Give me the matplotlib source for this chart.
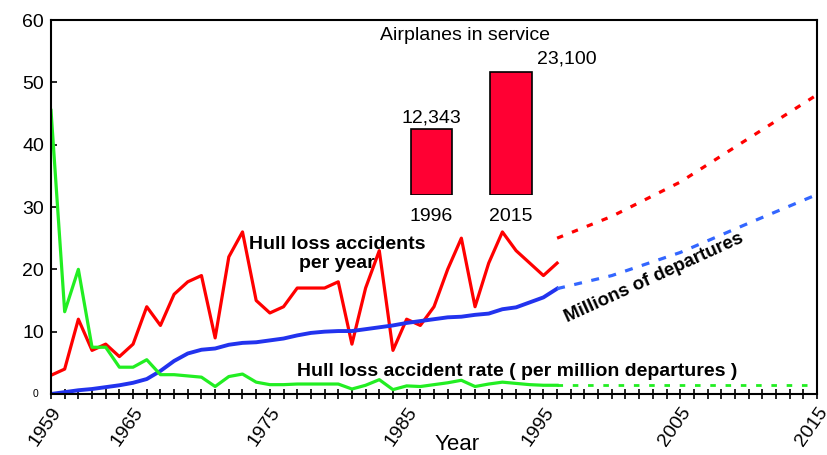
import numpy as np
import matplotlib
matplotlib.use('Agg')
import matplotlib.pyplot as plt

font = {'family': 'Liberation Sans', 'size': 14}
matplotlib.rc('font', **font)

# Historical data 1959-1996
years = list(range(1959, 1997))
hull_losses = [3, 4, 12, 7, 8, 6, 8, 14, 11, 16, 18, 19, 9, 22, 26, 15, 13, 14, 17, 17,
               17, 18, 8, 17, 23, 7, 12, 11, 14, 20, 25, 14, 21, 26, 23, 21, 19, 21]
departures = [0, 0.3, 0.6, 0.8, 1.1, 1.4, 1.8, 2.4, 3.7, 5.3, 6.5, 7.1, 7.3, 7.9, 8.2, 8.3,
              8.6, 8.9, 9.4, 9.8, 10.0, 10.1, 10.1, 10.4, 10.7, 11.0, 11.4, 11.7, 12.0, 12.3,
              12.4, 12.7, 12.9, 13.6, 13.9, 14.7, 15.5, 16.9]
loss_rate = [45.5, 13.2, 20, 7.5, 7.5, 4.3, 4.3, 5.5, 3.1, 3.1, 2.9, 2.7, 1.2, 2.8, 3.2, 1.9,
             1.5, 1.5, 1.6, 1.6, 1.6, 1.6, 0.8, 1.4, 2.3, 0.7, 1.3, 1.2, 1.5, 1.8, 2.2, 1.2,
             1.6, 1.9, 1.7, 1.5, 1.4, 1.4]

# Projections 1996-2015
proj_years = [1996, 2000, 2005, 2010, 2015]
proj_losses = [25, 28.5, 34, 41, 48]
proj_departures = [16.9, 19, 22.7, 27.4, 32]
proj_rate = [1.5, 1.5, 1.5, 1.5, 1.5]

# Airplanes in service inset
fleet_years = ['1996', '2015']
fleet_sizes = [12343, 23100]
fleet_labels = ['12,343', '23,100']

W, H = 827, 455
fig = plt.figure(figsize=(W / 100, H / 100), dpi=100)
ax = fig.add_axes([51 / W, 1 - 394 / H, 766 / W, 374 / H])

red, green, blue, lblue = '#FF0000', '#22EE22', '#2233EE', '#3366FF'
ax.plot(years, hull_losses, color=red, lw=2.3)
ax.plot(years, departures, color=blue, lw=2.8)
ax.plot(years, loss_rate, color=green, lw=2.3)
ax.plot(proj_years, proj_losses, color=red, lw=2.3, ls=(0, (2, 3)))
ax.plot(proj_years, proj_departures, color=lblue, lw=2.3, ls=(0, (2.5, 3)))
ax.plot(proj_years, proj_rate, color=green, lw=2.0, ls=(0, (2, 3.5)))

ax.set_xlim(1959, 2015)
ax.set_ylim(0, 60)
ax.set_yticks(range(0, 61, 10))
ax.set_yticklabels([''] + [str(v) for v in range(10, 61, 10)])
ax.text(-0.016, 0, '0', transform=ax.get_yaxis_transform(), ha='right', va='center', fontsize=7.5)
ax.set_xticks([1959, 1965, 1975, 1985, 1995, 2005, 2015])
ax.set_xticks(range(1959, 2016), minor=True)
ax.tick_params(axis='y', direction='in', length=4, width=1.2, labelsize=14, pad=5)
ax.tick_params(axis='x', which='both', direction='inout', length=7, width=1.2)
for lab in ax.get_xticklabels():
    lab.set_rotation(55)
    lab.set_ha('right')
    lab.set_va('top')
    lab.set_rotation_mode('anchor')
    lab.set_fontsize(14)
for s in ax.spines.values():
    s.set_linewidth(1.5)
ax.set_xlabel('Year', fontsize=16, va='top')
ax.xaxis.set_label_coords((457 - 51) / 766, -(434 - 394) / 374)

ax.text(1979.9, 22.5, 'Hull loss accidents\nper year', ha='center', va='center',
        fontsize=14, fontweight='bold', linespacing=1.15)
ax.text(1993.1, 3.6, 'Hull loss accident rate ( per million departures )', ha='center',
        va='center', fontsize=14, fontweight='bold')
ax.text(2003.1, 18.7, 'Millions of departures', ha='center', va='center', rotation=24.5,
        fontsize=13.5, fontweight='bold')

# inset bars
iax = fig.add_axes([390 / W, 1 - 195 / H, 160 / W, 135 / H])
iax.bar([0, 1], fleet_sizes, width=0.52, color='#FF0033', edgecolor='black', lw=1.2)
iax.set_xlim(-0.522, -0.522 + 160 / 79.5)
iax.set_ylim(0, 23100 * 135 / 123)
iax.axis('off')
iax.text(0, fleet_sizes[0] + 450, fleet_labels[0], ha='center', va='bottom', fontsize=14)
iax.text(1.327, 23900, fleet_labels[1], ha='left', va='bottom', fontsize=14)
for i, yr in enumerate(fleet_years):
    iax.text(i, -4000, yr, ha='center', va='center', fontsize=14)
fig.text(465 / W, 1 - 35 / H, 'Airplanes in service', ha='center', va='center', fontsize=14)

fig.savefig('out.png', dpi=100)
